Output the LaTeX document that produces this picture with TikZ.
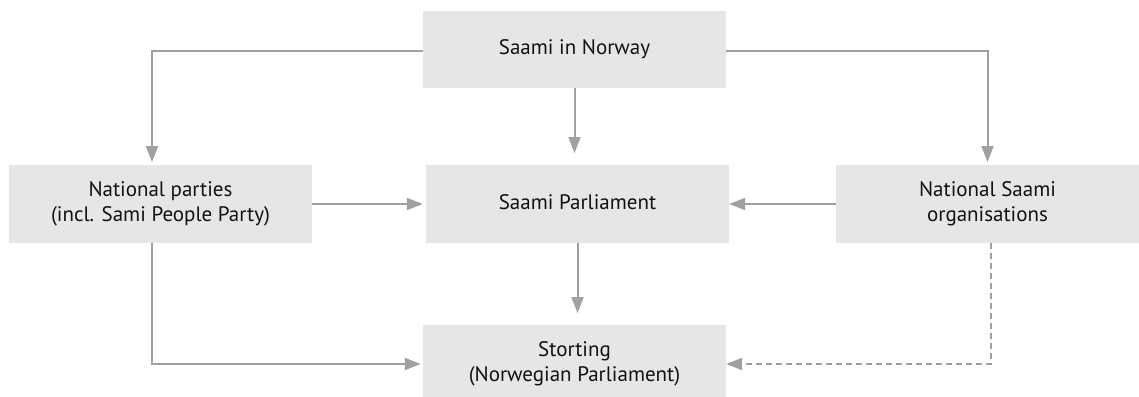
\documentclass[tikz,border=0pt]{standalone}
\usepackage{fontspec}
\setmainfont{PT Sans}
\usetikzlibrary{arrows.meta}
\definecolor{boxfill}{HTML}{E5E6E6}
\definecolor{linegray}{HTML}{A0A0A0}
\definecolor{txt}{HTML}{111111}
\newcommand{\boxtext}[2][3pt]{\raisebox{-#1}{\begin{tabular}{@{}c@{}}#2\end{tabular}}}
\tikzset{
  box/.style={fill=boxfill, draw=none, minimum width=303pt, minimum height=77.5pt, inner sep=0pt, text=txt, font=\fontsize{21}{25}\selectfont},
  arr/.style={draw=linegray, line width=2pt, -{Triangle[length=16pt, width=12pt]}},
  dasharr/.style={arr, dash pattern=on 6pt off 4pt}
}
\begin{document}
\begin{tikzpicture}[x=1pt, y=-1pt]
\useasboundingbox (0,0) rectangle (1139,396);
\node[box] (top) at (574.5,49.5) {\boxtext[4.5pt]{Saami in Norway}};
\node[box] (mid) at (577.5,204) {\boxtext[2.5pt]{Saami Parliament}};
\node[box] (lbox) at (160.5,204) {\boxtext[3.5pt]{National parties\\(incl. Sami People Party)}};
\node[box] (rbox) at (987.5,204) {\boxtext[3.5pt]{National Saami\\organisations}};
\node[box] (bot) at (574.5,364) {\boxtext[2.5pt]{Storting\\(Norwegian Parliament)}};
\draw[arr, shorten >=3pt] ([yshift=-1.5pt]top.west) -| ([xshift=-8.5pt]lbox.north);
\draw[arr, shorten >=3pt] ([yshift=-1.5pt]top.east) -| (rbox.north);
\draw[arr, shorten >=12pt] (top.south) -- (mid.north -| top.south);
\draw[arr, shorten >=3pt] (lbox.east) -- (mid.west);
\draw[arr] (rbox.west) -- (mid.east);
\draw[arr, shorten >=12pt] (mid.south) -- (bot.north -| mid.south);
\draw[arr, shorten >=2pt] ([xshift=-8.5pt]lbox.south) |- (bot.west);
\draw[dasharr] ([xshift=3pt]rbox.south) |- (bot.east);
\end{tikzpicture}
\end{document}
